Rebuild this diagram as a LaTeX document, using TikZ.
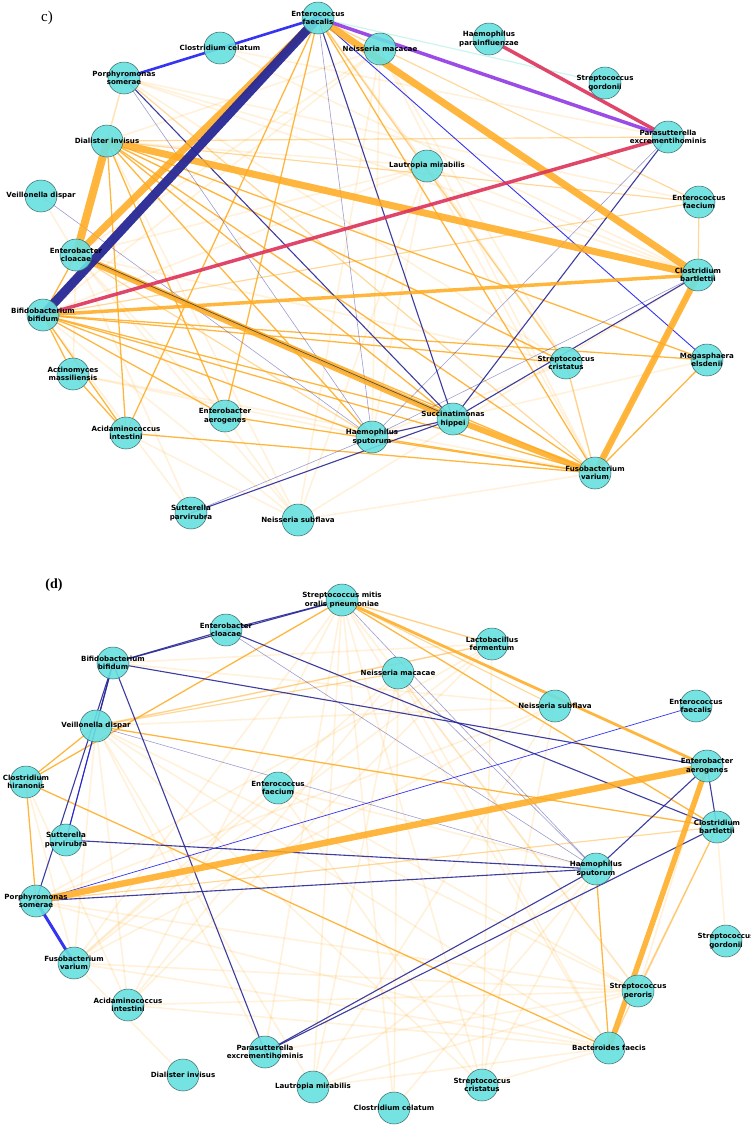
\documentclass[tikz,border=0pt]{standalone}
\usepackage{fontspec}
\newfontfamily\lblfam{DejaVu Sans}
\newfontfamily\ttlfam{Liberation Serif}
\pgfdeclarelayer{background}
\pgfdeclarelayer{canvas}
\pgfsetlayers{canvas,background,main}
\definecolor{ncyan}{RGB}{104,224,224}
\definecolor{nedge}{RGB}{60,105,105}
\definecolor{eor}{RGB}{255,170,30}
\definecolor{navyc}{RGB}{40,40,150}
\definecolor{bluec}{RGB}{30,30,240}
\definecolor{purc}{RGB}{155,75,230}
\definecolor{crc}{RGB}{220,50,90}
\definecolor{tealf}{RGB}{205,245,240}
\tikzset{
 nd/.style={circle,minimum size=32pt,inner sep=0pt,fill=ncyan,fill opacity=0.9,draw=nedge,line width=0.5pt},
 lbl/.style={font=\lblfam\bfseries\fontsize{7.1}{8.3}\selectfont,text=black,text opacity=1,fill opacity=1,align=center,inner sep=0pt},
 ed/.style={line cap=round},
 oT/.style={ed,draw=eor,opacity=0.85,line width=#1},
 oM/.style={ed,draw=eor,opacity=0.85,line width=1.3pt},
 oL/.style={ed,draw=eor,opacity=0.45,line width=1.2pt},
 oF/.style={ed,draw=eor,opacity=0.16,line width=1.6pt},
 nv/.style={ed,draw=navyc,opacity=0.9,line width=1.1pt},
 nvl/.style={ed,draw=navyc,opacity=0.45,line width=0.6pt},
 bl/.style={ed,draw=bluec,opacity=0.9,line width=#1},
 pu/.style={ed,draw=purc,line width=3.5pt},
 cr/.style={ed,draw=crc,opacity=0.9,line width=3.5pt},
}
\newcommand\nn[4]{\node[nd,label={[lbl]center:{#4}}] (#1) at (#2pt,-#3pt) {};}
\newcommand\edg[3]{\draw[#1] (#2.center) -- (#3.center);}
\begin{document}
\begin{tikzpicture}
\useasboundingbox (0,0) rectangle (751pt,-1128pt);
\begin{pgfonlayer}{canvas}
\fill[white] (0,0) rectangle (751pt,-1128pt);
\end{pgfonlayer}
\node[font=\ttlfam\fontsize{15}{15}\selectfont] (tc) at (47pt,-18pt) {c)};
\node[font=\ttlfam\bfseries\fontsize{14}{14}\selectfont] (td) at (54pt,-585pt) {(d)};
% ---------- panel c nodes
\nn{EFs}{318}{18}{Enterococcus\\faecalis}
\nn{CCe}{220}{48}{Clostridium celatum}
\nn{PSo}{124}{78}{Porphyromonas\\somerae}
\nn{NMa}{380}{49}{Neisseria macacae}
\nn{HPa}{489}{39}{Haemophilus\\parainfluenzae}
\nn{SGo}{605}{83}{Streptococcus\\gordonii}
\nn{PEx}{668}{137}{Parasutterella\\excrementihominis}
\nn{LMi}{427}{166}{Lautropia mirabilis}
\nn{EFm}{699}{202}{Enterococcus\\faecium}
\nn{CBa}{698}{275}{Clostridium\\bartlettii}
\nn{DIn}{107}{141}{Dialister invisus}
\nn{VDi}{41}{196}{Veillonella dispar}
\nn{ECl}{76}{255}{Enterobacter\\cloacae}
\nn{BBi}{43}{315}{Bifidobacterium\\bifidum}
\nn{AMa}{73}{374}{Actinomyces\\massiliensis}
\nn{AIn}{126}{433}{Acidaminococcus\\intestini}
\nn{EAe}{225}{416}{Enterobacter\\aerogenes}
\nn{HSp}{372}{437}{Haemophilus\\sputorum}
\nn{SPa}{191}{513}{Sutterella\\parvirubra}
\nn{NSu}{298}{520}{Neisseria subflava}
\nn{SHi}{453}{419}{Succinatimonas\\hippei}
\nn{SCr}{566}{363}{Streptococcus\\cristatus}
\nn{MEl}{707}{360}{Megasphaera\\elsdenii}
\nn{FVa}{595}{473}{Fusobacterium\\varium}
% ---------- panel d nodes
\nn{SMi}{342}{600}{Streptococcus mitis\\oralis pneumoniae}
\nn{dECl}{226}{630}{Enterobacter\\cloacae}
\nn{dBBi}{113}{663}{Bifidobacterium\\bifidum}
\nn{dVDi}{96}{726}{Veillonella dispar}
\nn{dCHi}{26}{782}{Clostridium\\hiranonis}
\nn{dEFm}{278}{788}{Enterococcus\\faecium}
\nn{dSPa}{66}{840}{Sutterella\\parvirubra}
\nn{dPSo}{36}{901}{Porphyromonas\\somerae}
\nn{dFVa}{74}{963}{Fusobacterium\\varium}
\nn{dAIn}{128}{1005}{Acidaminococcus\\intestini}
\nn{dPEx}{265}{1052}{Parasutterella\\excrementihominis}
\nn{dDIn}{183}{1075}{Dialister invisus}
\nn{dLMi}{313}{1087}{Lautropia mirabilis}
\nn{dCCe}{394}{1108}{Clostridium celatum}
\nn{dSCr}{482}{1085}{Streptococcus\\cristatus}
\nn{dBFa}{609}{1048}{Bacteroides faecis}
\nn{dSPe}{638}{991}{Streptococcus\\peroris}
\nn{dSGo}{726}{941}{Streptococcus\\gordonii}
\nn{dHSp}{596}{869}{Haemophilus\\sputorum}
\nn{dCBa}{717}{827}{Clostridium\\bartlettii}
\nn{dEAe}{707}{766}{Enterobacter\\aerogenes}
\nn{dEFs}{696}{706}{Enterococcus\\faecalis}
\nn{dNSu}{555}{706}{Neisseria subflava}
\nn{dLFe}{492}{644}{Lactobacillus\\fermentum}
\nn{dNMa}{398}{673}{Neisseria macacae}
\begin{pgfonlayer}{background}
% ===== panel c faint edges
\foreach \a/\b in {LMi/DIn,LMi/PSo,LMi/ECl,LMi/FVa,LMi/SCr,LMi/CBa,LMi/HSp,LMi/BBi,NSu/NMa,NSu/FVa,NSu/BBi,NSu/LMi,NSu/DIn,NSu/ECl,SCr/EFs,SCr/NMa,SCr/FVa,SCr/PSo,SCr/ECl,SCr/DIn,NMa/HSp,NMa/FVa,NMa/DIn,NMa/ECl,NMa/BBi,PSo/DIn,PSo/CBa,PSo/EFm,PSo/ECl,ECl/AMa,ECl/EAe,AMa/HSp,AIn/NSu,SPa/BBi,HSp/MEl,CCe/CBa,CCe/PEx,VDi/ECl,AMa/FVa,EAe/NSu,HSp/SCr,SPa/ECl,NSu/CBa,LMi/EFs}
  {\edg{oF}{\a}{\b}}
\draw[ed,draw=tealf,line width=1.2pt] (EFs.center) -- (SGo.center);
% light orange
\foreach \a/\b in {EFs/EFm,DIn/EFm,BBi/EFm,EFm/CBa,CBa/FVa,SCr/FVa,DIn/PEx,ECl/HSp,EFs/SCr,PSo/FVa,EFs/PEx}
  {\edg{oL}{\a}{\b}}
% medium orange
\foreach \a/\b in {ECl/BBi,BBi/AMa,BBi/AIn,BBi/EAe,BBi/HSp,BBi/SHi,BBi/FVa,BBi/SCr,BBi/MEl,DIn/AIn,DIn/EAe,DIn/HSp,DIn/SHi,DIn/SCr,DIn/MEl,DIn/FVa,EFs/AIn,EFs/EAe,AMa/AIn,AIn/FVa,EAe/FVa,HSp/FVa,MEl/FVa,EFs/FVa,ECl/FVa}
  {\edg{oM}{\a}{\b}}
% navy / blue
\foreach \a/\b in {PSo/HSp,VDi/HSp,EFs/HSp,PEx/HSp,CBa/HSp,SPa/HSp,ECl/SHi}
  {\edg{nvl}{\a}{\b}}
\foreach \a/\b in {EFs/SHi,PSo/SHi,PEx/SHi,CBa/SHi,SPa/SHi,SHi/HSp}
  {\edg{nv}{\a}{\b}}
\edg{bl=0.9pt}{EFs}{MEl}
% thick
\edg{oT=3.5pt}{BBi}{CBa}
\edg{oT=7pt}{DIn}{CBa}
\edg{oT=7pt}{EFs}{CBa}
\edg{oT=8pt}{DIn}{ECl}
\edg{oT=7pt}{EFs}{ECl}
\edg{oT=6.5pt}{ECl}{SHi}
\draw[ed,draw=black!80,line width=0.7pt,opacity=0.8] ([yshift=1.5pt]ECl.center) -- ([yshift=1.5pt]SHi.center);
\edg{oT=6pt}{SHi}{FVa}
\edg{oT=6.5pt}{CBa}{FVa}
\draw[ed,draw=navyc,line width=9pt,opacity=0.95] (EFs.center) -- (BBi.center);
\edg{bl=2.6pt}{PSo}{EFs}
\edg{pu}{EFs}{PEx}
\edg{cr}{HPa}{PEx}
\edg{cr}{BBi}{PEx}
% ===== panel d faint edges
\foreach \a/\b in {SMi/dPEx,SMi/dLMi,SMi/dSCr,SMi/dAIn,SMi/dCCe,SMi/dFVa,SMi/dSPe,SMi/dBFa,SMi/dLFe,dVDi/dLMi,dVDi/dSCr,dVDi/dAIn,dVDi/dBFa,dVDi/dSPe,dVDi/dNSu,dVDi/dLFe,dNMa/dFVa,dNMa/dAIn,dNMa/dSPe,dNMa/dBFa,dNMa/dCCe,dLFe/dPSo,dLFe/dSCr,dLFe/dFVa,dNSu/dPSo,dNSu/dLMi,dNSu/dFVa,dEFm/dSPe,dEFm/dSCr,dEFm/dFVa,dPSo/dSPe,dPSo/dBFa,dFVa/dSPe,dFVa/dBFa,dAIn/dSPe,dAIn/dBFa,dPEx/dSPe,dLMi/dSPe,dSCr/dHSp,dCCe/dHSp,dLMi/dHSp,dBFa/dSCr,dBFa/dLMi,dCBa/dSGo,dEAe/dSPe,dVDi/dPEx,dCHi/dFVa,dBBi/dNSu,dBBi/dLFe,dEFm/dHSp,dNMa/dLMi,dLFe/dAIn,dNSu/dSCr,dVDi/dFVa,dCHi/dAIn,dDIn/dFVa}
  {\edg{oF}{\a}{\b}}
\foreach \a/\b in {SMi/dLFe,SMi/dNSu,dCBa/dSPe,dCBa/dBFa,dLFe/dVDi,dNMa/dVDi,dPSo/dCBa}
  {\edg{oL}{\a}{\b}}
\foreach \a/\b in {SMi/dCHi,dCHi/dVDi,dCHi/dBFa,dCHi/dPSo,dHSp/dBFa,dVDi/dCBa,SMi/dCBa}
  {\edg{oM}{\a}{\b}}
\foreach \a/\b in {dBBi/SMi,dBBi/dECl,dECl/SMi,dBBi/dEAe,dBBi/dPEx,dBBi/dSPa,dBBi/dPSo,dBBi/dVDi,dECl/dCBa,dHSp/dEAe,dCBa/dEAe,dHSp/dPEx,dCBa/dPEx,dSPa/dHSp,dPSo/dHSp}
  {\edg{nv}{\a}{\b}}
\foreach \a/\b in {dECl/dHSp,SMi/dHSp,dNMa/dHSp,dVDi/dHSp}
  {\edg{nvl}{\a}{\b}}
\edg{bl=0.7pt}{dEFs}{dPSo}
\edg{bl=0.7pt}{dVDi}{dSPa}
\edg{oT=2.8pt}{SMi}{dEAe}
\edg{oT=6.5pt}{dPSo}{dEAe}
\edg{oT=5.5pt}{dEAe}{dBFa}
\edg{bl=3pt}{dPSo}{dFVa}
\end{pgfonlayer}
\end{tikzpicture}
\end{document}
